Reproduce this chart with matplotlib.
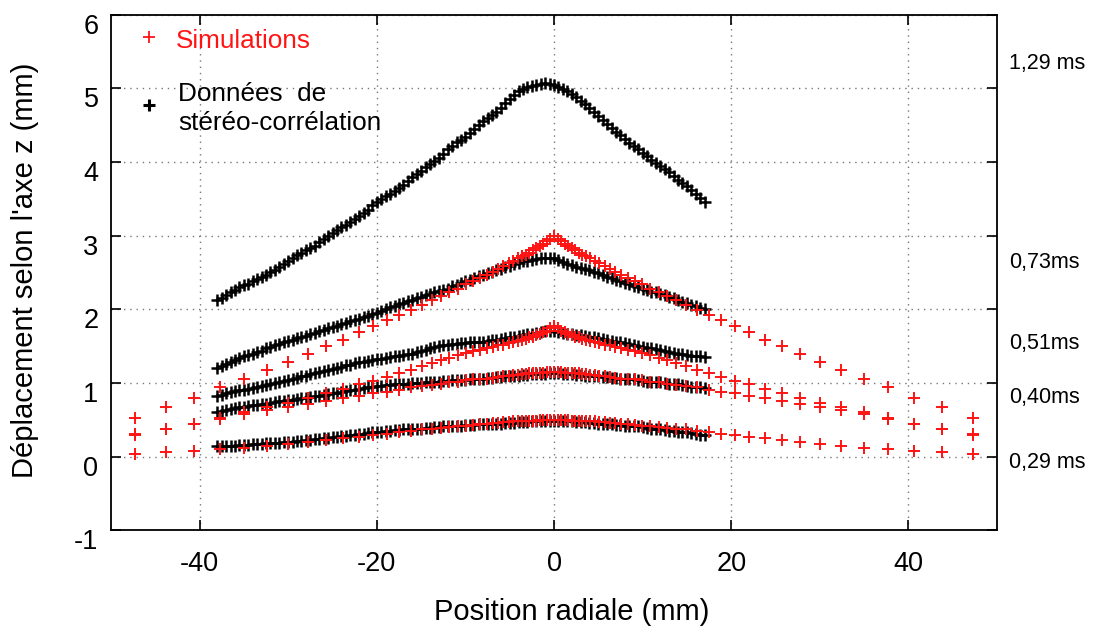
import matplotlib
matplotlib.use("Agg")
import matplotlib.pyplot as plt
import numpy as np
from matplotlib.transforms import ScaledTranslation

plt.rcParams['font.family'] = ['Liberation Sans', 'DejaVu Sans']
plt.rcParams['axes.unicode_minus'] = False

# ---------------- data ----------------
# experimental (stereo-correlation) positions, mm (0.5 mm pitch, -38 .. 17)
exp_x = np.arange(-38.0, 17.25, 0.5)

exp_129 = [2.13, 2.16, 2.19, 2.23, 2.26, 2.30, 2.33, 2.35, 2.38, 2.41, 2.44, 2.47, 2.50, 2.54,
           2.58, 2.62, 2.65, 2.69, 2.73, 2.77, 2.80, 2.83, 2.86, 2.91, 2.95, 3.00, 3.04, 3.07,
           3.11, 3.15, 3.19, 3.22, 3.26, 3.31, 3.35, 3.41, 3.46, 3.50, 3.54, 3.57, 3.61, 3.65,
           3.69, 3.74, 3.79, 3.84, 3.88, 3.93, 3.97, 4.01, 4.05, 4.11, 4.17, 4.22, 4.27, 4.30,
           4.34, 4.39, 4.44, 4.50, 4.55, 4.60, 4.64, 4.68, 4.73, 4.80, 4.86, 4.91, 4.96, 4.99,
           5.01, 5.03, 5.05, 5.06, 5.07, 5.06, 5.05, 5.02, 4.99, 4.96, 4.92, 4.88, 4.83, 4.78,
           4.73, 4.68, 4.62, 4.57, 4.51, 4.46, 4.41, 4.36, 4.31, 4.26, 4.21, 4.17, 4.12, 4.08,
           4.03, 3.99, 3.95, 3.91, 3.86, 3.81, 3.76, 3.72, 3.67, 3.62, 3.56, 3.51, 3.46]
exp_073 = [1.20, 1.23, 1.26, 1.28, 1.31, 1.34, 1.36, 1.38, 1.40, 1.42, 1.44, 1.47, 1.49, 1.51,
           1.53, 1.55, 1.57, 1.59, 1.61, 1.62, 1.64, 1.66, 1.68, 1.70, 1.72, 1.74, 1.76, 1.78,
           1.80, 1.82, 1.84, 1.85, 1.87, 1.89, 1.91, 1.93, 1.95, 1.98, 2.00, 2.03, 2.05, 2.07,
           2.09, 2.11, 2.13, 2.15, 2.17, 2.19, 2.21, 2.23, 2.25, 2.26, 2.28, 2.31, 2.33, 2.36,
           2.38, 2.40, 2.42, 2.45, 2.47, 2.49, 2.51, 2.53, 2.55, 2.57, 2.59, 2.61, 2.63, 2.65,
           2.66, 2.67, 2.68, 2.69, 2.69, 2.69, 2.69, 2.67, 2.64, 2.62, 2.60, 2.58, 2.56, 2.55,
           2.53, 2.51, 2.49, 2.46, 2.44, 2.42, 2.40, 2.38, 2.36, 2.34, 2.32, 2.30, 2.28, 2.26,
           2.24, 2.23, 2.21, 2.19, 2.17, 2.15, 2.13, 2.10, 2.08, 2.06, 2.04, 2.02, 2.00]
exp_051 = [0.82, 0.84, 0.86, 0.88, 0.89, 0.90, 0.91, 0.92, 0.93, 0.95, 0.96, 0.97, 0.98, 1.00,
           1.01, 1.03, 1.04, 1.06, 1.07, 1.09, 1.10, 1.12, 1.13, 1.15, 1.16, 1.18, 1.19, 1.21,
           1.22, 1.24, 1.25, 1.27, 1.28, 1.29, 1.30, 1.31, 1.32, 1.33, 1.34, 1.35, 1.36, 1.37,
           1.38, 1.39, 1.40, 1.42, 1.43, 1.45, 1.47, 1.49, 1.50, 1.51, 1.52, 1.53, 1.53, 1.54,
           1.54, 1.55, 1.55, 1.56, 1.56, 1.57, 1.58, 1.59, 1.60, 1.61, 1.62, 1.63, 1.64, 1.65,
           1.66, 1.67, 1.68, 1.69, 1.70, 1.70, 1.70, 1.69, 1.68, 1.67, 1.66, 1.65, 1.65, 1.64,
           1.63, 1.62, 1.61, 1.60, 1.58, 1.57, 1.56, 1.55, 1.54, 1.53, 1.52, 1.50, 1.49, 1.48,
           1.47, 1.46, 1.45, 1.43, 1.42, 1.41, 1.40, 1.39, 1.38, 1.37, 1.37, 1.36, 1.35]
exp_040 = [0.61, 0.62, 0.64, 0.65, 0.66, 0.67, 0.68, 0.69, 0.70, 0.70, 0.71, 0.72, 0.73, 0.74,
           0.75, 0.76, 0.77, 0.77, 0.78, 0.79, 0.80, 0.81, 0.82, 0.83, 0.84, 0.85, 0.86, 0.87,
           0.88, 0.89, 0.90, 0.91, 0.92, 0.93, 0.94, 0.95, 0.96, 0.96, 0.97, 0.97, 0.98, 0.98,
           0.99, 0.99, 1.00, 1.00, 1.00, 1.01, 1.01, 1.02, 1.02, 1.03, 1.03, 1.04, 1.04, 1.04,
           1.04, 1.05, 1.05, 1.06, 1.06, 1.07, 1.07, 1.08, 1.08, 1.09, 1.09, 1.10, 1.10, 1.11,
           1.11, 1.12, 1.12, 1.12, 1.12, 1.13, 1.13, 1.13, 1.12, 1.12, 1.12, 1.11, 1.11, 1.10,
           1.10, 1.09, 1.09, 1.08, 1.08, 1.07, 1.07, 1.06, 1.06, 1.05, 1.05, 1.04, 1.03, 1.02,
           1.02, 1.01, 1.01, 1.00, 0.99, 0.98, 0.98, 0.97, 0.96, 0.95, 0.95, 0.94, 0.93]
exp_029 = [0.14, 0.14, 0.15, 0.15, 0.15, 0.16, 0.16, 0.16, 0.17, 0.17, 0.17, 0.18, 0.18, 0.19,
           0.19, 0.20, 0.20, 0.20, 0.21, 0.21, 0.22, 0.23, 0.24, 0.24, 0.25, 0.26, 0.27, 0.27,
           0.28, 0.28, 0.29, 0.30, 0.31, 0.31, 0.32, 0.33, 0.34, 0.34, 0.35, 0.35, 0.36, 0.36,
           0.37, 0.37, 0.38, 0.38, 0.38, 0.39, 0.39, 0.40, 0.40, 0.41, 0.41, 0.41, 0.42, 0.42,
           0.43, 0.43, 0.43, 0.44, 0.44, 0.44, 0.45, 0.45, 0.45, 0.46, 0.46, 0.46, 0.47, 0.47,
           0.47, 0.48, 0.48, 0.48, 0.48, 0.49, 0.49, 0.49, 0.48, 0.48, 0.48, 0.47, 0.47, 0.47,
           0.46, 0.46, 0.45, 0.45, 0.44, 0.44, 0.43, 0.43, 0.42, 0.42, 0.41, 0.41, 0.40, 0.39,
           0.38, 0.38, 0.37, 0.36, 0.35, 0.35, 0.34, 0.33, 0.33, 0.32, 0.31, 0.30, 0.30]

# simulation: radial mesh nodes (mm) and axisymmetric profiles
sim_r = [0.0, 0.4, 0.8, 1.2, 1.6, 2.0, 2.4, 2.8, 3.2, 3.6, 4.1, 4.6, 5.1, 5.7, 6.3, 6.9, 7.6,
         8.3, 9.1, 9.9, 10.8, 11.8, 12.8, 13.8, 14.9, 16.1, 17.5, 18.9, 20.4, 22.0, 23.8, 25.7,
         27.8, 30.0, 32.4, 35.0, 37.7, 40.6, 43.8, 47.3]
sim_073 = [3.00, 2.96, 2.92, 2.89, 2.86, 2.83, 2.80, 2.77, 2.74, 2.72, 2.69, 2.66, 2.63, 2.59,
           2.55, 2.51, 2.47, 2.43, 2.39, 2.34, 2.28, 2.23, 2.18, 2.13, 2.06, 1.99, 1.92, 1.85,
           1.77, 1.69, 1.59, 1.50, 1.40, 1.29, 1.18, 1.06, 0.94, 0.80, 0.67, 0.53]
sim_051 = [1.77, 1.74, 1.71, 1.69, 1.67, 1.65, 1.63, 1.62, 1.60, 1.59, 1.57, 1.56, 1.54, 1.52,
           1.51, 1.49, 1.47, 1.45, 1.43, 1.41, 1.38, 1.34, 1.31, 1.27, 1.23, 1.18, 1.13, 1.08,
           1.03, 0.98, 0.92, 0.87, 0.80, 0.73, 0.67, 0.60, 0.52, 0.45, 0.37, 0.30]
sim_040 = [1.15, 1.15, 1.15, 1.14, 1.14, 1.14, 1.13, 1.13, 1.12, 1.12, 1.11, 1.11, 1.10, 1.09,
           1.08, 1.07, 1.06, 1.06, 1.05, 1.04, 1.02, 1.01, 0.99, 0.97, 0.96, 0.94, 0.91, 0.88,
           0.86, 0.83, 0.80, 0.76, 0.72, 0.68, 0.63, 0.58, 0.51, 0.44, 0.37, 0.31]
sim_029 = [0.50, 0.50, 0.50, 0.50, 0.50, 0.49, 0.49, 0.49, 0.49, 0.48, 0.48, 0.48, 0.47, 0.47,
           0.46, 0.46, 0.45, 0.44, 0.43, 0.42, 0.41, 0.40, 0.39, 0.38, 0.37, 0.35, 0.33, 0.31,
           0.29, 0.27, 0.25, 0.22, 0.20, 0.17, 0.15, 0.12, 0.10, 0.08, 0.06, 0.04]

time_labels = ["1,29 ms", "0,73ms", "0,51ms", "0,40ms", "0,29 ms"]
time_label_y = [5.33, 2.63, 1.53, 0.81, -0.08]

x_ticks = [-40, -20, 0, 20, 40]
y_ticks = [-1, 0, 1, 2, 3, 4, 5, 6]

# ---------------- figure ----------------
fig = plt.figure(figsize=(11.01, 6.32), dpi=100)
ax = fig.add_axes([111 / 1101, 1 - 530.4 / 632, 886 / 1101, 515.9 / 632])

red = "#ff1414"
for ys in [exp_129, exp_073, exp_051, exp_040, exp_029]:
    ax.plot(exp_x[:len(ys)], ys, ls="none", marker="+", ms=8.3, mew=1.8, color="black", zorder=3)


def mirror_x(r):
    return [-v for v in r[::-1]] + r[1:]


def mirror_y(v):
    return v[::-1] + v[1:]


for prof in [sim_073, sim_051, sim_040, sim_029]:
    ax.plot(mirror_x(sim_r), mirror_y(prof), ls="none", marker="+", ms=8.8, mew=1.4,
            color=red, zorder=4)

ax.set_xlim(-50, 50)
ax.set_ylim(-1, 6)
ax.set_xticks(x_ticks)
ax.set_yticks(y_ticks)
ax.grid(True, color="#777777", linestyle=(0, (1, 3.5)), linewidth=1.0)
ax.tick_params(direction="in", length=7, width=1.2, top=True, right=True,
               labelsize=19.5, pad=9)
ax.tick_params(axis="x", pad=15)
for s in ax.spines.values():
    s.set_linewidth(1.3)

offset = ScaledTranslation(0, -9 / 100, fig.dpi_scale_trans)
for lab in ax.get_yticklabels():
    lab.set_transform(lab.get_transform() + offset)

fig.text(25 / 1101, 1 - 270 / 632, "Déplacement selon l'axe z (mm)", fontsize=21,
         rotation=90, ha="center", va="center")
fig.text(572 / 1101, 1 - 612 / 632, "Position radiale (mm)", fontsize=21,
         ha="center", va="center")

# legend drawn manually
ax.plot([0.043], [0.956], transform=ax.transAxes, marker="+", ms=8, mew=1.3,
        color=red, ls="none", clip_on=False)
ax.plot([0.043], [0.825], transform=ax.transAxes, marker="+", ms=8, mew=2.2,
        color="black", ls="none", clip_on=False)
ax.text(0.0734, 0.949, "Simulations", transform=ax.transAxes, color=red,
        fontsize=18.8, va="center", ha="left")
ax.text(0.0756, 0.845, "Données  de", transform=ax.transAxes, color="black",
        fontsize=18.8, va="center", ha="left")
ax.text(0.0756, 0.790, "stéréo-corrélation", transform=ax.transAxes, color="black",
        fontsize=18.8, va="center", ha="left")

# time labels on the right
for lab, yv in zip(time_labels, time_label_y):
    ax.text(1.014, yv, lab, transform=ax.get_yaxis_transform(), fontsize=15.5,
            va="center", ha="left", clip_on=False)

fig.savefig("out.png", dpi=100)
